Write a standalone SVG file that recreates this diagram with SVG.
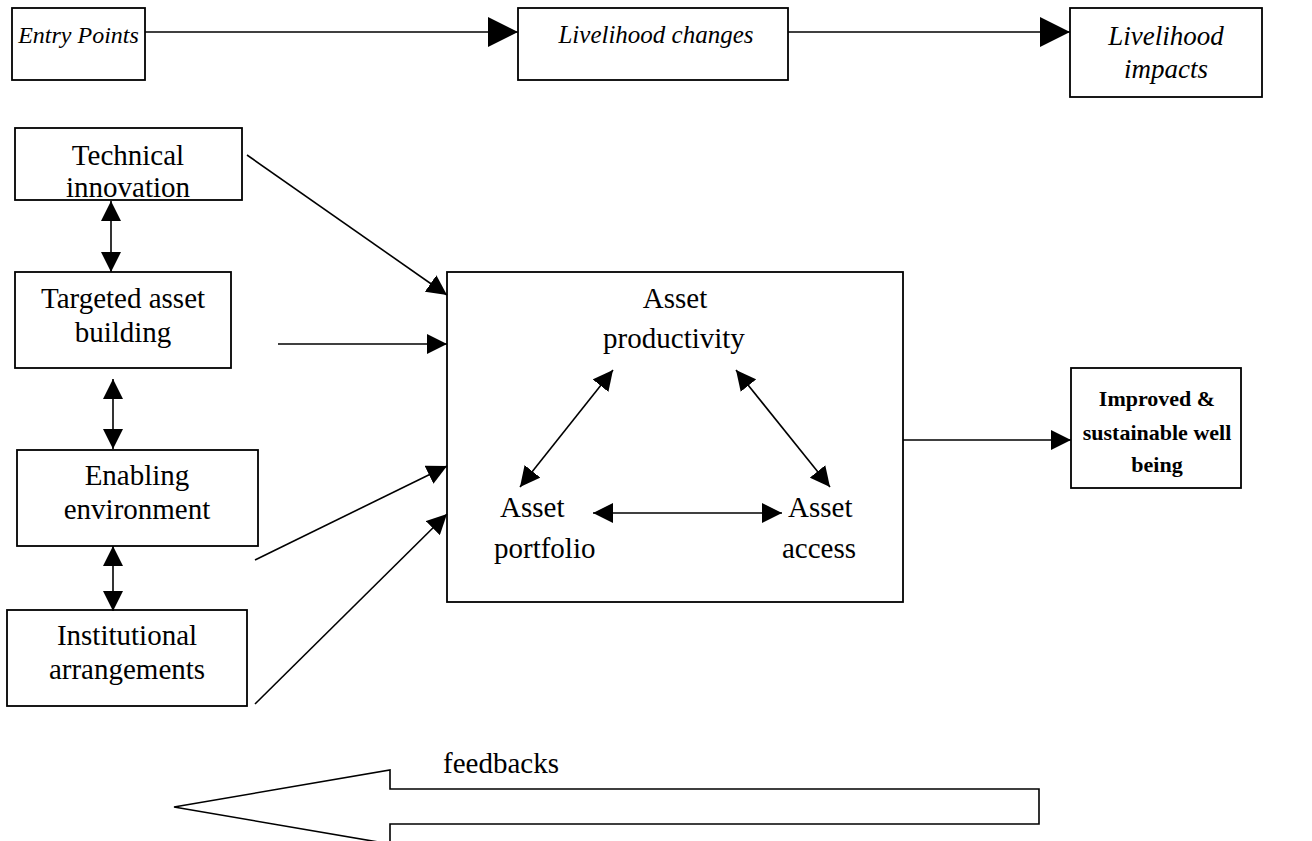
<svg xmlns="http://www.w3.org/2000/svg" width="1312" height="841" viewBox="0 0 1312 841">
  <style>
    .box { fill: #ffffff; stroke: #000000; stroke-width: 1.8; }
    .frame { fill: none; stroke: #000000; stroke-width: 1.8; }
    .ln { fill: none; stroke: #000000; stroke-width: 1.6; }
    .t { font-family: "Liberation Serif", "Times New Roman", serif; font-size: 29px; fill: #000000; }
    .c { text-anchor: middle; }
    .i { font-style: italic; font-size: 25px; }
    .b { font-weight: bold; font-size: 22px; }
    .big { marker-end: url(#headBig); }
    .one { marker-end: url(#head); }
    .two { marker-start: url(#head); marker-end: url(#head); }
  </style>
  <defs>
    <marker id="headBig" markerUnits="userSpaceOnUse" markerWidth="30" markerHeight="30" refX="30" refY="15" orient="auto-start-reverse" viewBox="0 0 30 30">
      <path d="M0,0 L30,15 L0,30 z" fill="#000000"/>
    </marker>
    <marker id="head" markerUnits="userSpaceOnUse" markerWidth="20" markerHeight="20" refX="20" refY="10" orient="auto-start-reverse" viewBox="0 0 20 20">
      <path d="M0,0 L20,10 L0,20 z" fill="#000000"/>
    </marker>
  </defs>
  <rect width="1312" height="841" fill="#ffffff"/>

  <g id="entry-points">
    <rect class="box" x="12" y="8" width="133" height="72"/>
    <text class="t i c" x="78.5" y="43" style="font-size:24px">Entry Points</text>
  </g>
  <g id="livelihood-changes">
    <rect class="box" x="518" y="8" width="270" height="72"/>
    <text class="t i c" x="656" y="43">Livelihood changes</text>
  </g>
  <g id="livelihood-impacts">
    <rect class="box" x="1070" y="8" width="192" height="89"/>
    <text class="t i c" x="1166" y="45" style="font-size:27px">Livelihood</text>
    <text class="t i c" x="1166" y="78" style="font-size:27px">impacts</text>
  </g>

  <g id="technical-innovation">
    <rect class="box" x="15" y="128" width="227" height="72"/>
    <text class="t c" x="128" y="165">Technical</text>
    <text class="t c" x="128" y="197">innovation</text>
  </g>
  <g id="targeted-asset-building">
    <rect class="box" x="15" y="272" width="216" height="96"/>
    <text class="t c" x="123" y="308">Targeted asset</text>
    <text class="t c" x="123" y="342">building</text>
  </g>
  <g id="enabling-environment">
    <rect class="box" x="17" y="450" width="241" height="96"/>
    <text class="t c" x="137" y="485">Enabling</text>
    <text class="t c" x="137" y="519">environment</text>
  </g>
  <g id="institutional-arrangements">
    <rect class="box" x="7" y="610" width="240" height="96"/>
    <text class="t c" x="127" y="645">Institutional</text>
    <text class="t c" x="127" y="679">arrangements</text>
  </g>

  <g id="asset-box">
    <rect class="frame" x="447" y="272" width="456" height="330"/>
  </g>
  <g id="asset-productivity">
    <text class="t c" x="675" y="308">Asset</text>
    <text class="t c" x="674" y="348">productivity</text>
  </g>
  <g id="asset-portfolio">
    <text class="t" x="500" y="517">Asset</text>
    <text class="t" x="494" y="558">portfolio</text>
  </g>
  <g id="asset-access">
    <text class="t" x="788" y="517">Asset</text>
    <text class="t" x="782" y="558">access</text>
  </g>

  <g id="improved-wellbeing">
    <rect class="box" x="1071" y="368" width="170" height="120"/>
    <text class="t b c" x="1157" y="406">Improved &amp;</text>
    <text class="t b c" x="1157" y="440">sustainable well</text>
    <text class="t b c" x="1157" y="472">being</text>
  </g>

  <g id="feedbacks">
    <path class="ln" d="M1039,789 L390,789 L390,770 L174,807 L390,844 L390,824 L1039,824 Z" fill="#ffffff"/>
    <text class="t" x="443" y="773">feedbacks</text>
  </g>

  <g id="connectors">
    <line class="ln big" x1="145" y1="32" x2="518" y2="32"/>
    <line class="ln big" x1="788" y1="32" x2="1070" y2="32"/>
    <line class="ln two" x1="111" y1="201" x2="111" y2="272"/>
    <line class="ln two" x1="113" y1="379" x2="113" y2="449"/>
    <line class="ln two" x1="113" y1="546" x2="113" y2="611"/>
    <line class="ln one" x1="247" y1="155" x2="447" y2="295"/>
    <line class="ln one" x1="278" y1="344" x2="447" y2="344"/>
    <line class="ln one" x1="255" y1="560" x2="447" y2="466"/>
    <line class="ln one" x1="255" y1="704" x2="447" y2="514"/>
    <line class="ln one" x1="903" y1="440" x2="1071" y2="440"/>
    <line class="ln two" x1="613" y1="370" x2="520" y2="487"/>
    <line class="ln two" x1="736" y1="370" x2="830" y2="487"/>
    <line class="ln two" x1="593" y1="513" x2="782" y2="513"/>
  </g>
</svg>
